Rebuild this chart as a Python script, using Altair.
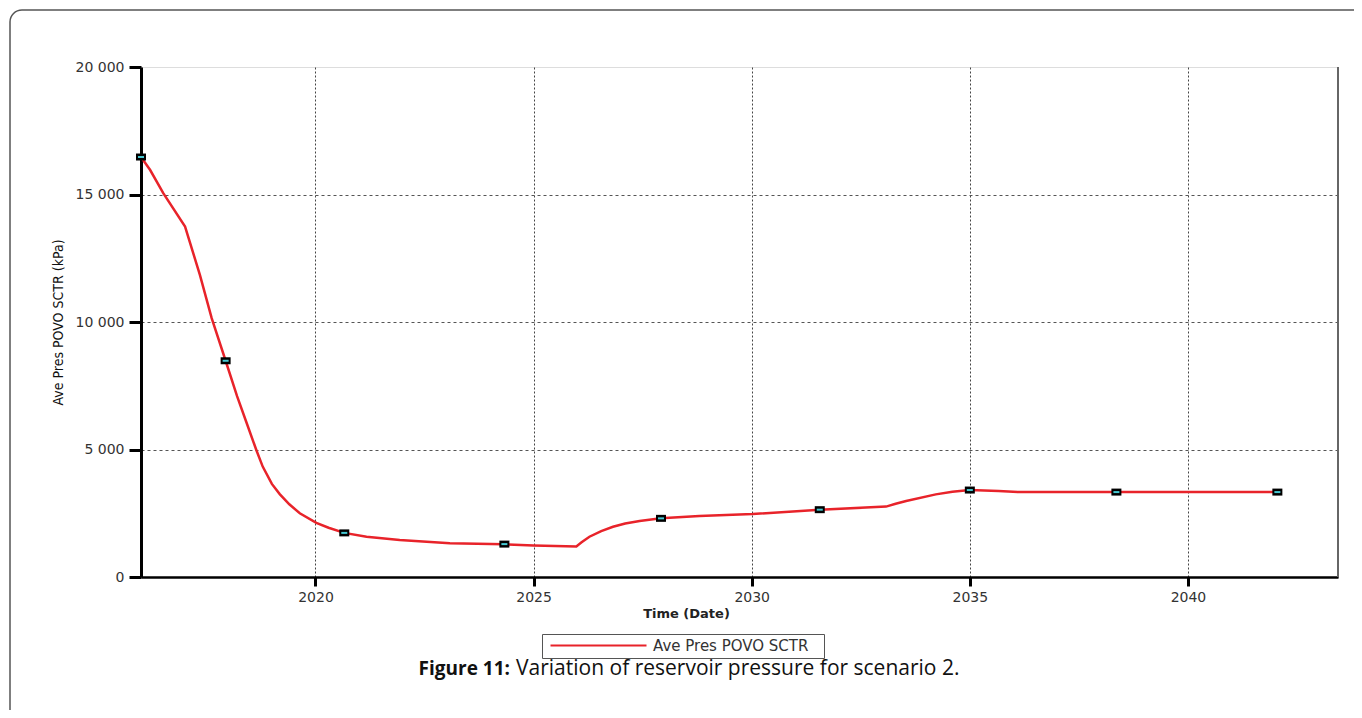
import altair as alt
import pandas as pd

# ---- data ----
curve_year = [2016.00, 2016.21, 2016.51, 2017.01, 2017.35, 2017.62, 2017.94, 2018.20,
              2018.42, 2018.65, 2018.79, 2019.00, 2019.18, 2019.40, 2019.64, 2020.02,
              2020.30, 2020.66, 2021.17, 2021.93, 2023.08, 2024.33, 2025.00, 2025.98,
              2026.10, 2026.28, 2026.55, 2026.82, 2027.10, 2027.43, 2027.92, 2028.80,
              2030.02, 2031.56, 2033.08, 2033.30, 2033.54, 2034.22, 2034.60, 2035.00,
              2035.66, 2036.10, 2038.36, 2040.00, 2042.05]
curve_kpa = [16470, 15960, 15050, 13740, 11850, 10150, 8480, 7100,
             6050, 4950, 4330, 3650, 3250, 2850, 2500, 2120,
             1930, 1730, 1580, 1450, 1320, 1280, 1240, 1200,
             1360, 1580, 1800, 1970, 2100, 2200, 2300, 2390,
             2470, 2640, 2760, 2870, 2980, 3240, 3340, 3410,
             3370, 3330, 3330, 3330, 3330]

marker_year = [2016.00, 2017.94, 2020.66, 2024.33, 2027.92, 2031.56, 2035.00, 2038.36, 2042.05]
marker_kpa = [16470, 8480, 1730, 1290, 2300, 2640, 3410, 3330, 3330]

x_ticks = [2020, 2025, 2030, 2035, 2040]
y_ticks = [0, 5000, 10000, 15000, 20000]
series_name = "Ave Pres POVO SCTR"
caption_bold = "Figure 11:"
caption_rest = "Variation of reservoir pressure for scenario 2."

W, H = 1197, 510
LABEL_FONT = "DejaVu Sans"

curve = pd.DataFrame({"year": curve_year, "kpa": curve_kpa, "series": series_name})
markers = pd.DataFrame({"year": marker_year, "kpa": marker_kpa})

x_scale = alt.Scale(domain=[2016.0, 2043.44], nice=False, zero=False)
y_scale = alt.Scale(domain=[0, 20000], nice=False)

x_axis = alt.Axis(values=x_ticks, format="d", grid=True, gridDash=[2, 2], gridColor="#444",
                  gridWidth=1, domainColor="black", domainWidth=2.5, tickColor="black",
                  tickWidth=3, tickSize=9, labelFont=LABEL_FONT, labelFontSize=14,
                  labelColor="#333", labelPadding=4, title="Time (Date)",
                  titleFont=LABEL_FONT, titleFontSize=13, titleFontWeight="bold",
                  titleColor="#222", titleX=545, titleY=36, titleAlign="center",
                  titleBaseline="middle")
y_axis = alt.Axis(values=y_ticks, grid=True, gridDash=[3, 3], gridColor="#555", gridWidth=1,
                  gridOpacity={"condition": {"test": "datum.value >= 20000", "value": 0},
                               "value": 1},
                  domainColor="black", domainWidth=3, tickColor="black", tickWidth=3,
                  tickSize=12, labelFont=LABEL_FONT, labelFontSize=14, labelColor="#333",
                  labelPadding=5,
                  labelExpr="replace(format(datum.value, ','), ',', ' ')",
                  title="Ave Pres POVO SCTR (kPa)",
                  titleFont="Liberation Sans Narrow, DejaVu Sans Condensed, Liberation Sans",
                  titleFontSize=14, titleFontWeight="normal", titleColor="#111",
                  titleX=-83, titleY=255, titleAlign="center", titleBaseline="middle",
                  titleAngle=270)

line = alt.Chart(curve).mark_line(strokeWidth=2.5).encode(
    x=alt.X("year:Q", scale=x_scale, axis=x_axis),
    y=alt.Y("kpa:Q", scale=y_scale, axis=y_axis),
    color=alt.Color("series:N", scale=alt.Scale(range=["#e8232a"]),
                    legend=alt.Legend(title="\u2002", titleOrient="right", titlePadding=12,
                                      titleFontSize=10,
                                      orient="none", legendX=401, legendY=567,
                                      symbolType="M-0.5,0H15.5", symbolSize=144,
                                      symbolStrokeWidth=2, labelFont=LABEL_FONT,
                                      labelFontSize=15, labelColor="#333", labelOffset=92,
                                      padding=4, strokeColor="#555", fillColor="white",
                                      labelLimit=400)),
)

mk_box = alt.Chart(markers).mark_point(
    shape="M-1,-0.7H1V0.7H-1Z", size=100, filled=True, color="black", opacity=1
).encode(x=alt.X("year:Q", scale=x_scale), y=alt.Y("kpa:Q", scale=y_scale))

mk_in = alt.Chart(markers).mark_point(
    shape="M-0.6,0H0.6", size=100, filled=False, stroke="#45c8d2", strokeWidth=2, opacity=1
).encode(x=alt.X("year:Q", scale=x_scale), y=alt.Y("kpa:Q", scale=y_scale))

one = pd.DataFrame({"k": [0]})

right_border = alt.Chart(one).mark_rule(color="#666", strokeWidth=2).encode(
    x=alt.value(W), y=alt.value(0), y2=alt.value(H))

# outer figure frame: top and left edges with a rounded top-left corner
frame_top = alt.Chart(one).mark_rule(color="#555", strokeWidth=1.5).encode(
    x=alt.value(-119), x2=alt.value(1300), y=alt.value(-57))
frame_left = alt.Chart(one).mark_rule(color="#555", strokeWidth=1.5).encode(
    x=alt.value(-131), y=alt.value(-45), y2=alt.value(700))
frame_corner = alt.Chart(one).mark_arc(radius=12.75, radius2=11.25, theta=4.7124,
                                       theta2=6.2832, color="#555").encode(
    x=alt.value(-119), y=alt.value(-45))

cap1 = alt.Chart(one).mark_text(align="right", baseline="alphabetic", font="Open Sans",
                                fontSize=19, fontWeight="bold", color="#111").encode(
    x=alt.value(369), y=alt.value(608), text=alt.value(caption_bold))
cap2 = alt.Chart(one).mark_text(align="left", baseline="alphabetic", font="Open Sans",
                                fontSize=21, color="#111").encode(
    x=alt.value(375), y=alt.value(608), text=alt.value(caption_rest))

chart = alt.layer(frame_top, frame_left, frame_corner, line, mk_box, mk_in, right_border,
                  cap1, cap2).properties(
    width=W, height=H,
    autosize=alt.AutoSizeParams(type="none"),
    padding={"left": 133, "top": 59, "right": 16, "bottom": 133},
).configure_view(stroke="#bbb", strokeWidth=1).configure(background="white")

chart.save("out.html", embed_options={"renderer": "svg", "actions": False})
